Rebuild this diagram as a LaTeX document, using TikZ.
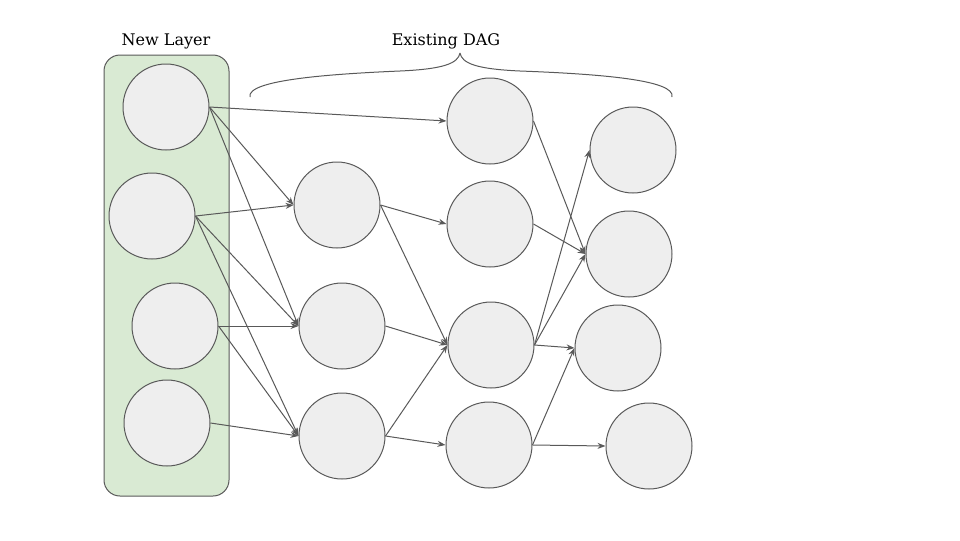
\documentclass[tikz,border=0pt]{standalone}
\usepackage{fontspec}
\setmainfont{DejaVu Serif}
\usetikzlibrary{arrows.meta}
\definecolor{nodefill}{HTML}{EEEEEE}
\definecolor{edgegray}{HTML}{595959}
\definecolor{layerfill}{HTML}{D9EAD3}
\begin{document}
\begin{tikzpicture}[x=0.75pt,y=-0.75pt,
  unit/.style={circle,draw=edgegray,fill=nodefill,line width=0.75pt,minimum size=64.5pt,inner sep=0pt},
  edge/.style={draw=edgegray,line width=0.75pt,-{Stealth[length=6pt,width=4.5pt]}},
  lbl/.style={font=\fontsize{12}{14}\selectfont,text=black,inner sep=0pt}]
\useasboundingbox (0,0) rectangle (960,540);
% new layer box
\node[draw=edgegray,fill=layerfill,line width=0.75pt,rounded corners=12pt,minimum width=93.75pt,minimum height=330.75pt,inner sep=0pt] (box) at (166.5,275.5) {};
\node[lbl] (newlbl) at (166,41) {New Layer};
\node[lbl] (daglbl) at (446,41) {Existing DAG};
% brace
\draw[edgegray,line width=0.75pt] (250,97) .. controls (246,80) and (330,74) .. (400,71) .. controls (445,69) and (458,63) .. (460,53) coordinate (tip)
  (tip) .. controls (462,63) and (475,69) .. (520,71) .. controls (600,74) and (676,80) .. (672,97);
% new layer nodes
\node[unit] (a1) at (166,107) {};
\node[unit] (a2) at (152,216) {};
\node[unit] (a3) at (175,326) {};
\node[unit] (a4) at (167,423) {};
% layer 2
\node[unit] (b1) at (337,205) {};
\node[unit] (b2) at (342,326) {};
\node[unit] (b3) at (342,436) {};
% layer 3
\node[unit] (c1) at (490,121) {};
\node[unit] (c2) at (490,224) {};
\node[unit] (c3) at (491,345) {};
\node[unit] (c4) at (489,445) {};
% layer 4
\node[unit] (d1) at (633,150) {};
\node[unit] (d2) at (629,254) {};
\node[unit] (d3) at (618,348) {};
\node[unit] (d4) at (649,446) {};
% edges
\foreach \s/\t in {a1/c1,a1/b1,a1/b2,a2/b1,a2/b2,a2/b3,a3/b2,a3/b3,a4/b3,
  b1/c2,b1/c3,b2/c3,b3/c3,b3/c4,
  c1/d2,c2/d2,c3/d1,c3/d2,c3/d3,c4/d3,c4/d4}
  \draw[edge] (\s.east) -- (\t.west);
\end{tikzpicture}
\end{document}
